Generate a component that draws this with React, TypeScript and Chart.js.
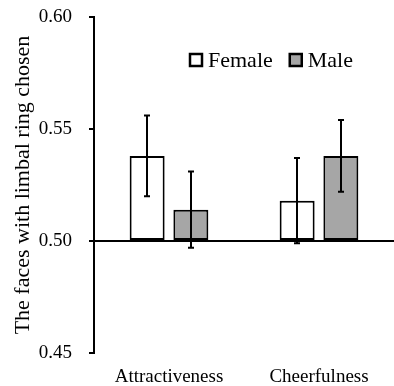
import React, { useEffect, useRef } from "react";
import { Chart, registerables } from "chart.js";

Chart.register(...registerables);

const categories = ["Attractiveness", "Cheerfulness"];
const seriesNames = ["Female", "Male"];
const femaleValues = [0.538, 0.518];
const maleValues = [0.514, 0.538];
const femaleErrors = [0.018, 0.019];
const maleErrors = [0.017, 0.016];
const yTicks = [0.45, 0.5, 0.55, 0.6];
const baseline = 0.5;

const FONT = "'Liberation Serif', 'Times New Roman', serif";

const errorBarPlugin = {
  id: "errorBars",
  afterDatasetsDraw(chart: any) {
    const ctx = chart.ctx;
    const yScale = chart.scales.y;
    const errs = [femaleErrors, maleErrors];
    ctx.save();
    ctx.strokeStyle = "#000";
    ctx.lineWidth = 2;
    chart.data.datasets.forEach((ds: any, i: number) => {
      const meta = chart.getDatasetMeta(i);
      meta.data.forEach((el: any, j: number) => {
        const v = ds.data[j];
        const e = errs[i][j];
        const yt = yScale.getPixelForValue(v + e);
        const yb = yScale.getPixelForValue(v - e);
        const x = Math.round(el.x);
        ctx.beginPath();
        ctx.moveTo(x, yt);
        ctx.lineTo(x, yb);
        ctx.moveTo(x - 3, yt);
        ctx.lineTo(x + 3, yt);
        ctx.moveTo(x - 3, yb);
        ctx.lineTo(x + 3, yb);
        ctx.stroke();
      });
    });
    ctx.restore();
  },
};

const legendPlugin = {
  id: "innerLegend",
  afterDraw(chart: any) {
    const ctx = chart.ctx;
    const area = chart.chartArea;
    ctx.save();
    ctx.font = `22px ${FONT}`;
    ctx.textBaseline = "middle";
    ctx.textAlign = "left";
    let x = area.left + 96;
    const yc = area.top + 43;
    chart.data.datasets.forEach((ds: any) => {
      ctx.fillStyle = ds.backgroundColor;
      ctx.strokeStyle = "#000";
      ctx.lineWidth = 2.5;
      ctx.fillRect(x, yc - 6, 12, 12);
      ctx.strokeRect(x, yc - 6, 12, 12);
      ctx.fillStyle = "#000";
      ctx.fillText(ds.label, x + 18, yc + 1);
      x += 18 + ctx.measureText(ds.label).width + 17;
    });
    ctx.restore();
  },
};

export default function App() {
  const ref = useRef<HTMLCanvasElement | null>(null);
  useEffect(() => {
    if (!ref.current) return;
    const chart = new Chart(ref.current, {
      type: "bar",
      data: {
        labels: categories,
        datasets: [
          {
            label: seriesNames[0],
            data: femaleValues,
            base: baseline,
            backgroundColor: "#ffffff",
            borderColor: "#000000",
            borderWidth: 2,
            borderSkipped: false,
            categoryPercentage: 0.583,
            barPercentage: 0.8,
          },
          {
            label: seriesNames[1],
            data: maleValues,
            base: baseline,
            backgroundColor: "#a6a6a6",
            borderColor: "#000000",
            borderWidth: 2,
            borderSkipped: false,
            categoryPercentage: 0.583,
            barPercentage: 0.8,
          },
        ] as any,
      },
      options: {
        animation: false,
        responsive: false,
        maintainAspectRatio: false,
        layout: { padding: { top: 17, right: -2, bottom: 0, left: 0 } },
        plugins: {
          legend: { display: false },
          tooltip: { enabled: false },
        },
        scales: {
          x: {
            grid: { display: false, drawTicks: false },
            border: { display: false },
            afterFit: (s: any) => {
              s.height = 33;
            },
            ticks: {
              color: "#000",
              padding: 13,
              font: { family: FONT, size: 19 },
            },
          },
          y: {
            min: 0.45,
            max: 0.6,
            afterBuildTicks: (s: any) => {
              s.ticks = yTicks.map((v) => ({ value: v }));
            },
            afterFit: (s: any) => {
              s.width = 94;
              s.paddingTop = 0;
              s.paddingBottom = 0;
            },
            grid: {
              drawTicks: true,
              tickLength: 5,
              tickColor: "#000",
              tickWidth: 2,
              color: (c: any) =>
                c.tick && Math.abs(c.tick.value - baseline) < 1e-9 ? "#000" : "rgba(0,0,0,0)",
              lineWidth: 2,
            },
            border: { display: true, color: "#000", width: 2 },
            ticks: {
              color: "#000",
              padding: 17,
              font: { family: FONT, size: 19 },
              callback: (v: any) => Number(v).toFixed(2),
            },
            title: {
              display: true,
              text: "The faces with limbal ring chosen",
              color: "#000",
              font: { family: FONT, size: 22 },
              padding: { top: 10, bottom: 4 },
            },
          },
        },
      } as any,
      plugins: [errorBarPlugin, legendPlugin],
    });
    return () => chart.destroy();
  }, []);
  return (
    <div style={{ position: "absolute", left: 0, top: 0, width: 394, height: 386, background: "#fff" }}>
      <canvas ref={ref} width={394} height={386} style={{ width: 394, height: 386 }} />
    </div>
  );
}
